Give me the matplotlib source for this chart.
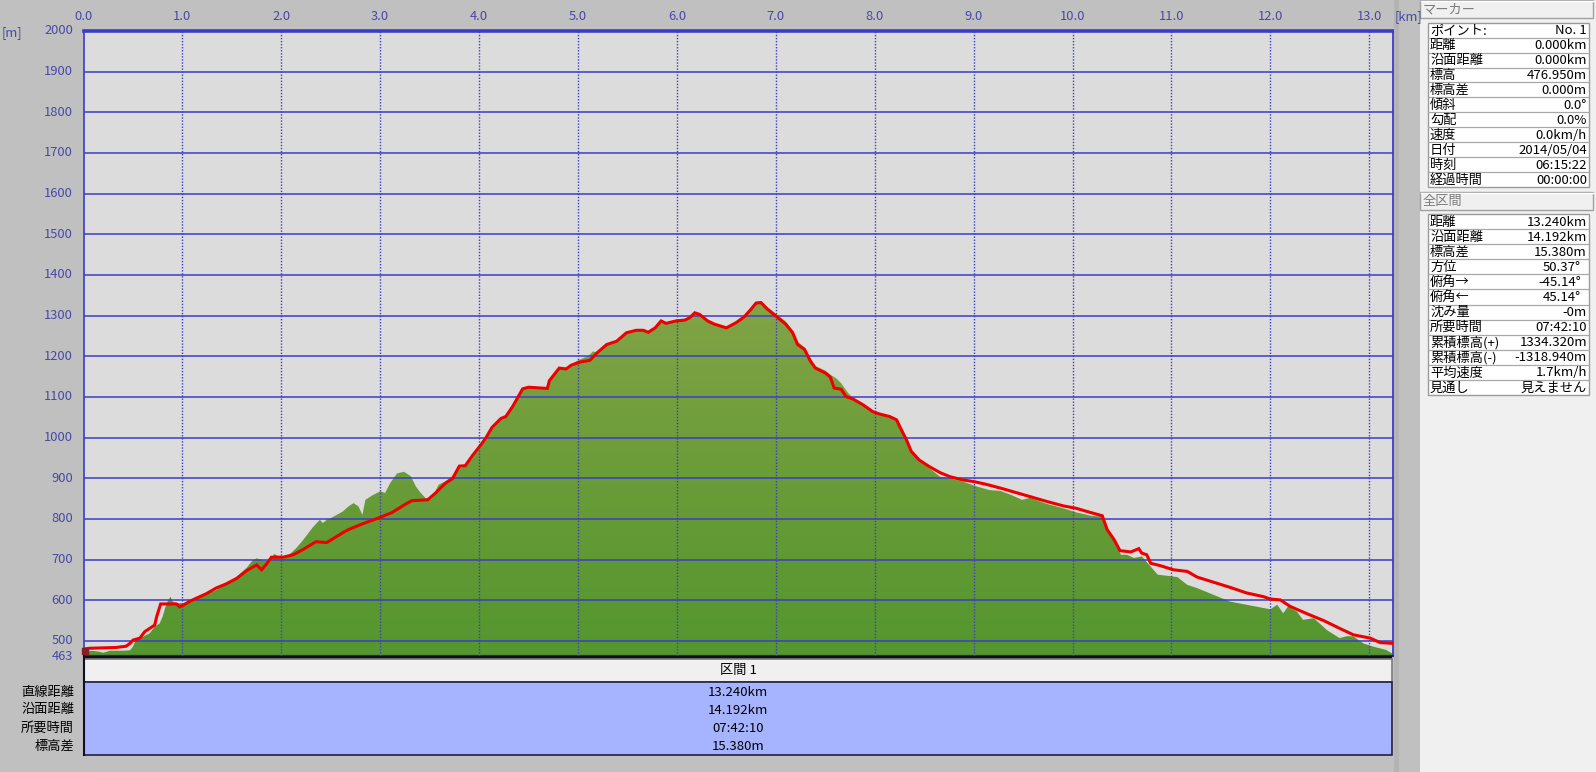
import matplotlib
matplotlib.use('Agg')
import matplotlib.pyplot as plt
import numpy as np
from matplotlib.patches import Rectangle, Polygon
from matplotlib.colors import LinearSegmentedColormap

plt.rcParams['font.family'] = ['Noto Sans CJK JP', 'DejaVu Sans']

# ---------------- data ----------------
terrain_km = [0.00, 0.02, 0.07, 0.15, 0.20, 0.27, 0.40, 0.47, 0.50, 0.53, 0.60, 0.67, 0.72, 0.77, 0.80,
              0.84, 0.88, 0.90, 0.94, 1.01, 1.11, 1.20, 1.34, 1.45, 1.55, 1.65, 1.71, 1.75, 1.82, 1.88,
              1.93, 1.98, 2.08, 2.15, 2.22, 2.32, 2.39, 2.42, 2.46, 2.50, 2.56, 2.62, 2.68, 2.73, 2.78,
              2.82, 2.85, 2.92, 3.00, 3.05, 3.10, 3.17, 3.24, 3.31, 3.36, 3.41, 3.46, 3.52, 3.59, 3.66,
              3.73, 3.80, 3.86, 3.93, 4.02, 4.07, 4.13, 4.22, 4.27, 4.34, 4.44, 4.50, 4.60, 4.69, 4.71,
              4.81, 4.88, 4.93, 5.00, 5.11, 5.15, 5.19, 5.29, 5.39, 5.49, 5.59, 5.66, 5.71, 5.78, 5.84,
              5.89, 5.99, 6.08, 6.13, 6.18, 6.23, 6.31, 6.38, 6.50, 6.60, 6.68, 6.75, 6.80, 6.85, 6.91,
              7.00, 7.10, 7.17, 7.22, 7.29, 7.35, 7.40, 7.50, 7.55, 7.61, 7.66, 7.73, 7.78, 7.88, 7.98,
              8.05, 8.15, 8.22, 8.27, 8.32, 8.37, 8.45, 8.55, 8.66, 8.76, 8.89, 9.03, 9.16, 9.27, 9.38,
              9.49, 9.57, 9.74, 9.91, 10.04, 10.15, 10.18, 10.30, 10.35, 10.42, 10.49, 10.55, 10.62, 10.70,
              10.79, 10.86, 11.00, 11.06, 11.16, 11.26, 11.43, 11.59, 11.76, 11.93, 12.00, 12.07, 12.13,
              12.18, 12.27, 12.33, 12.44, 12.57, 12.70, 12.78, 12.84, 12.94, 13.04, 13.17, 13.24]
terrain_m = [466, 470, 476, 474, 471, 476, 476, 477, 486, 502, 510, 519, 535, 543, 560,
             593, 609, 597, 593, 593, 601, 610, 625, 640, 658, 680, 698, 703, 698, 698,
             714, 707, 712, 728, 748, 780, 798, 790, 798, 802, 810, 818, 831, 839, 831,
             810, 847, 858, 868, 864, 888, 912, 916, 905, 880, 864, 851, 850, 884, 893,
             905, 925, 930, 950, 978, 995, 1020, 1043, 1050, 1075, 1120, 1124, 1122, 1121, 1140,
             1172, 1170, 1180, 1190, 1202, 1212, 1210, 1230, 1238, 1260, 1266, 1266, 1261, 1272, 1289,
             1283, 1289, 1291, 1297, 1309, 1305, 1289, 1281, 1272, 1285, 1300, 1320, 1334, 1336, 1322,
             1305, 1286, 1264, 1236, 1222, 1195, 1176, 1165, 1155, 1146, 1134, 1110, 1098, 1082, 1065,
             1060, 1054, 1046, 1020, 995, 964, 942, 925, 904, 900, 892, 880, 871, 869, 859,
             847, 852, 837, 826, 816, 810, 808, 806, 772, 745, 712, 712, 704, 708,
             683, 663, 659, 657, 638, 630, 613, 597, 589, 581, 578, 589, 568,
             585, 572, 552, 556, 527, 507, 512, 511, 494, 486, 478, 468]

track_km = [0.00, 0.06, 0.20, 0.33, 0.43, 0.47, 0.50, 0.57, 0.62, 0.67, 0.72, 0.74, 0.78, 0.94, 0.97,
            1.01, 1.07, 1.14, 1.24, 1.34, 1.44, 1.55, 1.65, 1.75, 1.80, 1.85, 1.90, 2.02, 2.12, 2.22,
            2.35, 2.46, 2.56, 2.62, 2.68, 2.82, 3.00, 3.12, 3.26, 3.32, 3.48, 3.56, 3.66, 3.73, 3.80,
            3.86, 3.93, 4.02, 4.07, 4.13, 4.22, 4.27, 4.34, 4.44, 4.50, 4.69, 4.71, 4.81, 4.88, 4.93,
            5.02, 5.12, 5.19, 5.29, 5.39, 5.49, 5.59, 5.66, 5.71, 5.78, 5.84, 5.89, 5.99, 6.08, 6.13,
            6.18, 6.23, 6.31, 6.38, 6.50, 6.60, 6.68, 6.75, 6.80, 6.85, 6.91, 7.00, 7.10, 7.17, 7.22,
            7.29, 7.35, 7.40, 7.50, 7.55, 7.59, 7.66, 7.71, 7.78, 7.88, 7.98, 8.05, 8.15, 8.22, 8.27,
            8.32, 8.37, 8.45, 8.55, 8.66, 8.76, 8.89, 9.00, 9.13, 9.27, 9.40, 9.57, 9.74, 9.91, 10.04,
            10.18, 10.30, 10.35, 10.42, 10.48, 10.59, 10.67, 10.70, 10.75, 10.79, 10.89, 11.02, 11.16,
            11.26, 11.43, 11.59, 11.76, 11.93, 12.00, 12.10, 12.20, 12.37, 12.54, 12.70, 12.84, 13.01,
            13.11, 13.24]
track_m = [480, 482, 483, 484, 487, 494, 502, 507, 523, 531, 539, 560, 591, 591, 584,
           588, 597, 605, 616, 630, 640, 654, 673, 687, 675, 689, 706, 706, 712, 725,
           744, 742, 757, 766, 774, 788, 804, 816, 837, 845, 847, 864, 888, 899, 930,
           931, 955, 983, 1000, 1025, 1047, 1052, 1077, 1120, 1124, 1121, 1140, 1171, 1169, 1178,
           1186, 1190, 1208, 1229, 1237, 1258, 1264, 1264, 1259, 1270, 1287, 1281, 1287, 1289, 1295,
           1307, 1303, 1287, 1279, 1270, 1283, 1297, 1316, 1331, 1332, 1317, 1299, 1279, 1258, 1229,
           1217, 1188, 1171, 1159, 1149, 1122, 1119, 1101, 1095, 1081, 1064, 1058, 1052, 1044, 1019,
           995, 966, 945, 929, 914, 904, 896, 892, 885, 876, 867, 855, 843, 832, 826,
           816, 808, 774, 749, 722, 719, 727, 716, 712, 691, 685, 675, 671,
           657, 644, 632, 618, 609, 603, 601, 585, 567, 550, 531, 515, 507,
           496, 494]

y_ticks = [463, 500, 600, 700, 800, 900, 1000, 1100, 1200, 1300, 1400, 1500, 1600, 1700, 1800, 1900, 2000]
x_ticks = [0.0, 1.0, 2.0, 3.0, 4.0, 5.0, 6.0, 7.0, 8.0, 9.0, 10.0, 11.0, 12.0, 13.0]

marker_labels = ['ポイント:', '距離', '沿面距離', '標高', '標高差', '傾斜', '勾配', '速度', '日付', '時刻', '経過時間']
marker_values = ['No. 1', '0.000km', '0.000km', '476.950m', '0.000m', '0.0°', '0.0%', '0.0km/h',
                 '2014/05/04', '06:15:22', '00:00:00']
total_labels = ['距離', '沿面距離', '標高差', '方位', '俯角→', '俯角←', '沈み量', '所要時間',
                '累積標高(+)', '累積標高(-)', '平均速度', '見通し']
total_values = ['13.240km', '14.192km', '15.380m', '50.37°', '-45.14°', '45.14°', '-0m', '07:42:10',
                '1334.320m', '-1318.940m', '1.7km/h', '見えません']
section_title = '区間 1'
section_labels = ['直線距離', '沿面距離', '所要時間', '標高差']
section_values = ['13.240km', '14.192km', '07:42:10', '15.380m']

# ---------------- layout ----------------
W, H = 1596, 772
fig = plt.figure(figsize=(W / 100, H / 100), dpi=100, facecolor='#c0c0c0')

L, R, T, B = 83.5, 1393.0, 31.0, 656.0
XMAX, YMIN, YMAX = 13.24, 463, 2000
ax = fig.add_axes([L / W, 1 - B / H, (R - L) / W, (B - T) / H])
ax.set_facecolor('#dcdcdc')
ax.set_xlim(0, XMAX)
ax.set_ylim(YMIN, YMAX)
ax.set_xticks([])
ax.set_yticks([])

grid_c = '#3c3cc8'
for v in y_ticks[1:-1]:
    ax.axhline(v, color=grid_c, lw=1.1, zorder=3)
for v in x_ticks[1:]:
    ax.axvline(v, color=grid_c, lw=1.0, ls=(0, (1, 1.2)), zorder=3)

# terrain with vertical gradient
verts = [(terrain_km[0], YMIN)] + list(zip(terrain_km, terrain_m)) + [(terrain_km[-1], YMIN)]
poly = Polygon(verts, closed=True, fc='none', ec='none')
ax.add_patch(poly)
cmap = LinearSegmentedColormap.from_list('g', ['#55962f', '#6a9c38', '#82a446'])
grad = np.linspace(0, 1, 256).reshape(-1, 1)
im = ax.imshow(grad, extent=[0, XMAX, YMIN, 1345], aspect='auto', origin='lower', cmap=cmap, zorder=2)
im.set_clip_path(poly)

ax.plot(track_km, track_m, color='#ee0000', lw=2.2, zorder=5, solid_joinstyle='miter')
ax.plot([0.02], [476], marker='s', ms=5, color='#8a1c28', zorder=6, clip_on=False)

for s in ['top', 'right']:
    ax.spines[s].set_color('#3c3cc8')
ax.spines['top'].set_linewidth(2.6)
ax.spines['right'].set_linewidth(1.3)
ax.spines['bottom'].set_color('#26266a')
ax.spines['bottom'].set_linewidth(1.6)
ax.spines['left'].set_color('#3c3cc8')
ax.spines['left'].set_linestyle((0, (1, 1)))
ax.spines['left'].set_linewidth(1.2)

tick_c = '#4848a8'
for v in y_ticks:
    yp = T + (YMAX - v) / (YMAX - YMIN) * (B - T)
    fig.text(73 / W, 1 - yp / H, str(v), ha='right', va='center', fontsize=9.3, color=tick_c)
for v in x_ticks:
    xp = L + v / XMAX * (R - L)
    fig.text(xp / W, 1 - 17 / H, f'{v:.1f}', ha='center', va='center', fontsize=9.3, color=tick_c)
fig.text(2 / W, 1 - 33 / H, '[m]', ha='left', va='center', fontsize=9.3, color=tick_c)

# ---------------- overlay in pixel coordinates ----------------
ov = fig.add_axes([0, 0, 1, 1], zorder=10)
ov.set_xlim(0, W)
ov.set_ylim(H, 0)
ov.axis('off')


def rect(x0, y0, x1, y1, fc, ec='none', lw=1.0, z=1):
    ov.add_patch(Rectangle((x0, y0), x1 - x0, y1 - y0, fc=fc, ec=ec, lw=lw, zorder=z))


# right panel
rect(1393.5, 0, 1399, H, '#b4b4b4')
rect(1420, 0, W, H, '#f0f0f0')
ov.text(1395, 17, '[km]', ha='left', va='center', fontsize=9.3, color=tick_c, zorder=6)

FS = 9.5


def header(y0, y1, label):
    rect(1420, y0, 1593, y1, '#f0f0f0', '#a0a0a0', 1.0, 2)
    ov.plot([1420.5, 1592.5], [y0 + 0.8, y0 + 0.8], color='white', lw=1, zorder=3)
    ov.text(1423, (y0 + y1) / 2 + 0.5, label, ha='left', va='center', fontsize=FS, color='#7c7c7c', zorder=4)


def table(y0, y1, labels, values, offsets=None):
    n = len(labels)
    rh = (y1 - y0) / n
    rect(1428, y0, 1589, y1, 'white', '#9a9a9a', 1.0, 2)
    for i in range(n):
        yc = y0 + rh * (i + 0.5)
        if i > 0:
            ov.plot([1428, 1589], [y0 + rh * i, y0 + rh * i], color='#a8a8a8', lw=0.9, zorder=3)
        ov.text(1430, yc + 0.5, labels[i], ha='left', va='center', fontsize=FS, color='black', zorder=4)
        dx = offsets[i] if offsets else 0
        ov.text(1587 - dx, yc + 0.5, values[i], ha='right', va='center', fontsize=FS, color='black', zorder=4)


header(0, 18, 'マーカー')
table(22.7, 187, marker_labels, marker_values)
header(192, 210, '全区間')
table(214, 395, total_labels, total_values, [0, 0, 0, 6, 6, 6, 0, 0, 0, 0, 0, 0])

# bottom section table
rect(84, 656, 1392, 658.5, '#101020', z=2)
rect(84, 658.5, 1392, 682, '#f0f0f0', '#7a7a7a', 1.2, 2)
rect(84, 682, 1392, 755, '#a6b4ff', '#20203c', 1.2, 2)
ov.plot([84, 84], [656, 755], color='#101020', lw=1.5, zorder=3)
cx = (84 + 1392) / 2
ov.text(cx, 670.5, section_title, ha='center', va='center', fontsize=FS, color='black', zorder=4)
rows_y = [692.5, 710, 728, 746]
for lab, val, yy in zip(section_labels, section_values, rows_y):
    ov.text(74, yy, lab, ha='right', va='center', fontsize=FS, color='black', zorder=4)
    ov.text(cx, yy, val, ha='center', va='center', fontsize=FS, color='black', zorder=4)

fig.savefig('out.png', dpi=100, facecolor=fig.get_facecolor())
